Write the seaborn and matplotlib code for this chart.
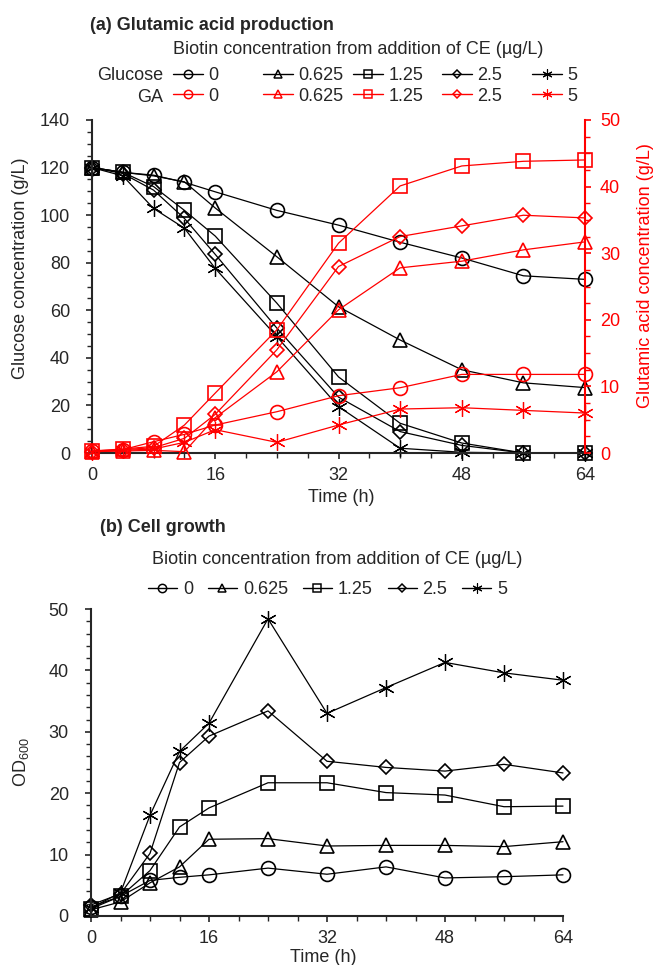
import pandas as pd
import seaborn as sns
import matplotlib.pyplot as plt
from matplotlib.lines import Line2D
from matplotlib.ticker import MultipleLocator

# =========================
# data
# =========================

time = [0, 4, 8, 12, 16, 24, 32, 40, 48, 56, 64]
biotin = ['0', '0.625', '1.25', '2.5', '5']

# glucose (g/L), left axis of panel (a)
glucose_0 = [120, 118, 116.8, 113.8, 109.8, 102, 95.8, 88.6, 82, 74.5, 73]
glucose_0625 = [120, 118, 116.5, 114, 103, 82.5, 61.5, 47.5, 35, 29.5, 27.5]
glucose_125 = [120, 118, 112, 102, 91.2, 63, 32, 12.5, 4.2, 0, 0]
glucose_25 = [120, 117.5, 110.5, 98.6, 83.5, 52.5, 23.5, 9, 3.2, 0, 0]
glucose_5 = [120, 116.5, 102.8, 94.5, 77.6, 48.9, 19.5, 2, 0.3, 0, 0]

# glutamic acid (g/L), right axis of panel (a)
ga_0 = [0.3, 0.5, 1.7, 2.8, 4.2, 6.2, 8.6, 9.8, 11.8, 11.8, 11.8]
ga_0625 = [0.2, 0.3, 0.4, 0.2, 5.3, 12.2, 21.5, 27.8, 28.8, 30.5, 31.7]
ga_125 = [0.3, 0.6, 1.0, 4.2, 9.0, 18.5, 31.5, 40.1, 43.1, 43.8, 44.0]
ga_25 = [0.2, 0.5, 0.8, 2.2, 5.8, 15.5, 28.0, 32.5, 34.1, 35.7, 35.3]
ga_5 = [0.2, 0.4, 0.6, 1.6, 3.5, 1.6, 4.2, 6.6, 6.8, 6.4, 6.0]

# OD600, panel (b)
od_0 = [1.5, 3.2, 5.8, 6.3, 6.7, 7.8, 6.8, 8.0, 6.2, 6.4, 6.7]
od_0625 = [1.0, 2.3, 5.4, 8.0, 12.5, 12.6, 11.4, 11.5, 11.5, 11.3, 12.1]
od_125 = [1.2, 3.2, 7.4, 14.5, 17.6, 21.7, 21.7, 20.1, 19.7, 17.8, 17.9]
od_25 = [1.8, 3.6, 10.2, 25.0, 29.3, 33.4, 25.2, 24.2, 23.6, 24.7, 23.3]
od_5 = [1.3, 3.8, 16.4, 26.8, 31.4, 48.4, 33.0, 37.2, 41.3, 39.6, 38.4]

glucose = [glucose_0, glucose_0625, glucose_125, glucose_25, glucose_5]
ga = [ga_0, ga_0625, ga_125, ga_25, ga_5]
od = [od_0, od_0625, od_125, od_25, od_5]

# =========================
# style
# =========================
sns.set_style('ticks')
plt.rcParams['font.family'] = ['Liberation Sans', 'DejaVu Sans']
plt.rcParams['font.size'] = 13

RED = '#ff0000'
markers = {'0': 'o', '0.625': '^', '1.25': 's', '2.5': 'D', '5': (6, 2, 0)}
msizes = {'0': 10, '0.625': 10.5, '1.25': 9.7, '2.5': 7, '5': 12}
medges = {'0': 1.2, '0.625': 1.2, '1.25': 1.2, '2.5': 1.2, '5': 0.9}

W, H = 655, 965


def fx(px):
    return px / W


def fy(py):
    return 1 - py / H


def draw_series(ax, values, label, color):
    df = pd.DataFrame({'time': time, 'value': values})
    sns.lineplot(data=df, x='time', y='value', ax=ax, color=color, lw=0.9,
                 marker=markers[label], ms=msizes[label], mfc='none',
                 mec=color, mew=medges[label], clip_on=False, errorbar=None,
                 legend=False)


def legend_handle(label, color):
    return Line2D([], [], color=color, lw=1.0, marker=markers[label],
                  ms=msizes[label] * 0.6, mfc='none', mec=color,
                  mew=medges[label] * 0.9)


def style_axis(ax, ymajor, yminor, ypad):
    ax.set_xlim(0, 64)
    ax.xaxis.set_major_locator(MultipleLocator(16))
    ax.xaxis.set_minor_locator(MultipleLocator(4))
    ax.yaxis.set_major_locator(MultipleLocator(ymajor))
    ax.yaxis.set_minor_locator(MultipleLocator(yminor))
    ax.tick_params(axis='both', which='major', direction='out', length=4,
                   width=1.2, labelsize=13)
    ax.tick_params(axis='both', which='minor', direction='out', length=3.5,
                   width=1.0)
    ax.tick_params(axis='x', which='major', pad=6)
    ax.tick_params(axis='y', which='major', pad=ypad)
    ax.spines['top'].set_visible(False)
    ax.spines['right'].set_visible(False)
    ax.spines['left'].set_linewidth(1.5)
    ax.spines['bottom'].set_linewidth(1.5)
    ax.set_xlabel('')
    ax.set_ylabel('')


fig = plt.figure(figsize=(6.55, 9.65))

# =========================
# (a) glutamic acid production
# =========================
ax_a = fig.add_axes([fx(92), fy(453), fx(585) - fx(92), fy(120) - fy(453)])
ax_ga = ax_a.twinx()

for lab, vals in zip(biotin, glucose):
    draw_series(ax_a, vals, lab, 'black')
for lab, vals in zip(biotin, ga):
    draw_series(ax_ga, vals, lab, RED)

style_axis(ax_a, 20, 5, 11.8)
ax_a.set_ylim(0, 140)

ax_ga.set_ylim(0, 50)
ax_ga.yaxis.set_major_locator(MultipleLocator(10))
ax_ga.yaxis.set_minor_locator(MultipleLocator(2.5))
ax_ga.tick_params(axis='y', which='major', direction='out', length=4,
                  width=1.2, colors=RED, labelsize=13, pad=6.8)
ax_ga.tick_params(axis='y', which='minor', direction='out', length=3.5,
                  width=1.0, colors=RED)
for s in ['top', 'left', 'bottom']:
    ax_ga.spines[s].set_visible(False)
ax_ga.spines['right'].set_color(RED)
ax_ga.spines['right'].set_linewidth(1.5)
ax_ga.set_ylabel('')
ax_ga.set_xlabel('')

fig.text(fx(90), fy(25), '(a) Glutamic acid production', weight='bold',
         va='center', ha='left')
fig.text(fx(173), fy(50), 'Biotin concentration from addition of CE (\u00b5g/L)',
         va='center', ha='left')
fig.text(fx(163), fy(75), 'Glucose', va='center', ha='right')
fig.text(fx(163), fy(97), 'GA', va='center', ha='right')

# one small legend per column so every column has the same width
col_x = [173, 263, 353, 442, 532]
for lab, cx in zip(biotin, col_x):
    fig.legend(handles=[legend_handle(lab, 'black'), legend_handle(lab, RED)],
               labels=[lab, lab], loc='center left',
               bbox_to_anchor=(fx(cx), fy(86)), frameon=False,
               handlelength=1.65, handletextpad=0.3, labelspacing=0.2,
               borderpad=0, borderaxespad=0, fontsize=13)

fig.text(fx(21), fy(268), 'Glucose concentration (g/L)', rotation=90,
         ha='center', va='center')
fig.text(fx(646), fy(276), 'Glutamic acid concentration (g/L)', rotation=90,
         ha='center', va='center', color=RED)
fig.text(fx(341), fy(497), 'Time (h)', ha='center', va='center')

# =========================
# (b) cell growth
# =========================
ax_b = fig.add_axes([fx(91), fy(916), fx(563) - fx(91), fy(609) - fy(916)])

for lab, vals in zip(biotin, od):
    draw_series(ax_b, vals, lab, 'black')

style_axis(ax_b, 10, 2, 12)
ax_b.set_ylim(0, 50)

fig.text(fx(100), fy(527), '(b) Cell growth', weight='bold',
         va='center', ha='left')
fig.text(fx(152), fy(560), 'Biotin concentration from addition of CE (\u00b5g/L)',
         va='center', ha='left')
fig.legend(handles=[legend_handle(lab, 'black') for lab in biotin],
           labels=biotin, ncol=5, loc='center left',
           bbox_to_anchor=(fx(148), fy(590)), frameon=False,
           handlelength=1.6, handletextpad=0.33, columnspacing=0.83,
           borderpad=0, borderaxespad=0, fontsize=13)

fig.text(fx(21), fy(762), r'OD$_{\mathregular{600}}$', rotation=90,
         ha='center', va='center')
fig.text(fx(323), fy(957), 'Time (h)', ha='center', va='center')

fig.savefig('out.png', dpi=100)
plt.close()
